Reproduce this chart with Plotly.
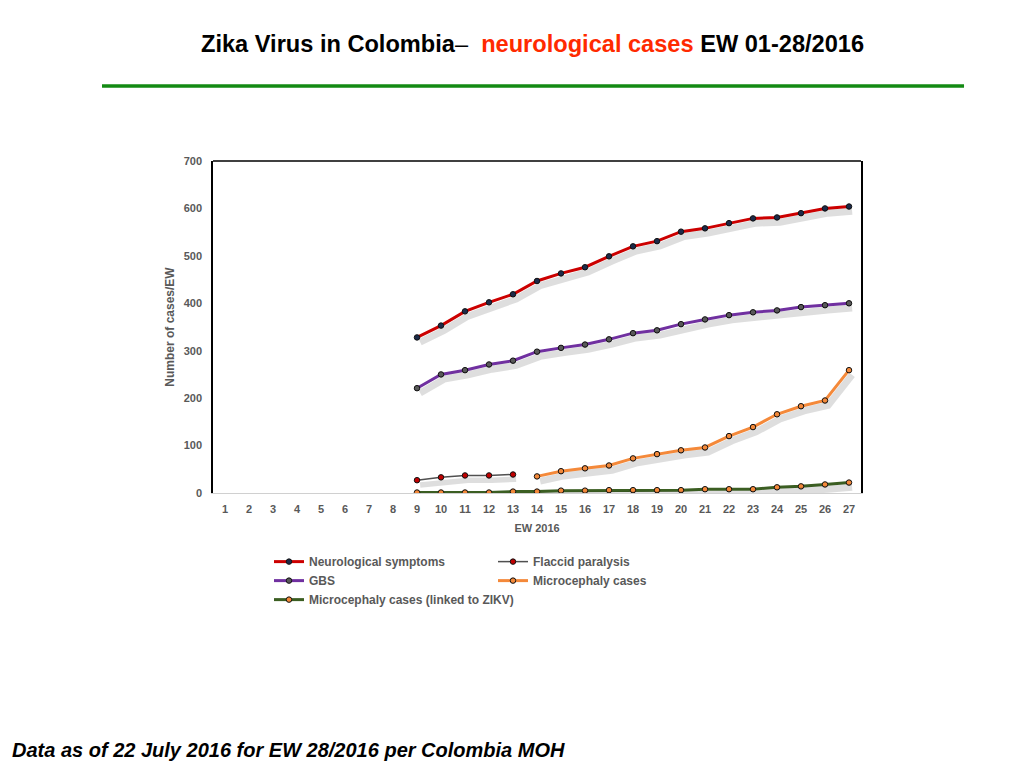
import plotly.graph_objects as go

# epidemiological weeks shown on the x axis
weeks = list(range(1, 28))

# series values (weeks 9-27)
neuro_weeks = list(range(9, 28))
neuro_cases = [328, 353, 383, 402, 419, 447, 463, 476, 499, 520, 531, 551, 558, 569, 579, 581, 590, 600, 604]

gbs_weeks = list(range(9, 28))
gbs_cases = [221, 250, 259, 271, 279, 298, 306, 313, 324, 337, 343, 356, 366, 375, 381, 385, 392, 396, 400]

flaccid_weeks = [9, 10, 11, 12, 13]
flaccid_cases = [27, 33, 37, 37, 39]

micro_weeks = list(range(14, 28))
micro_cases = [35, 46, 52, 58, 73, 82, 90, 96, 120, 139, 166, 183, 195, 259]

zikv_weeks = list(range(9, 28))
zikv_cases = [1, 1, 1, 1, 3, 3, 5, 5, 6, 6, 6, 6, 8, 8, 8, 12, 14, 18, 22]

tick_gray = "#595959"
font_main = "Liberation Sans"

# series: name, x, y, line colour, line width, marker colour
series = [
    ("Neurological symptoms", neuro_weeks, neuro_cases, "#cc0000", 3, "#1c2a4a"),
    ("Flaccid paralysis", flaccid_weeks, flaccid_cases, "#505050", 1.5, "#c00000"),
    ("GBS", gbs_weeks, gbs_cases, "#7030a0", 3, "#595959"),
    ("Microcephaly cases", micro_weeks, micro_cases, "#f4893a", 3, "#f4893a"),
    ("Microcephaly cases (linked to ZIKV)", zikv_weeks, zikv_cases, "#3b5e22", 3, "#f4893a"),
]

fig = go.Figure()

# soft drop shadows drawn on a slightly shifted copy of the axes
for name, x, y, col, lw, mcol in series:
    fig.add_trace(go.Scatter(
        x=x, y=y, mode="lines", xaxis="x2", yaxis="y2",
        line=dict(color="rgba(0,0,0,0.13)", width=lw + 4),
        showlegend=False, hoverinfo="skip"))

for name, x, y, col, lw, mcol in series:
    fig.add_trace(go.Scatter(
        x=x, y=y, mode="lines+markers", name=name,
        line=dict(color=col, width=lw),
        marker=dict(color=mcol, size=5.5, line=dict(color="#111111", width=1))))

# the page adds an 8px body margin, so the margins below are shifted by that
fig.update_layout(
    width=1024, height=768,
    paper_bgcolor="white", plot_bgcolor="white",
    margin=dict(l=205, r=171, t=153, b=283),
    font=dict(family=font_main, color=tick_gray),
    xaxis=dict(
        range=[0.5, 27.5], tickmode="array", tickvals=weeks, ticktext=[str(w) for w in weeks],
        showgrid=False, zeroline=False, showline=True, linecolor="#d0d0d0", linewidth=1,
        ticks="", ticklabelstandoff=6,
        tickfont=dict(size=11, color=tick_gray, family=font_main, weight="bold"),
        title=dict(text="<b>EW 2016</b>", font=dict(size=11, color=tick_gray), standoff=10)),
    yaxis=dict(
        range=[0, 700], dtick=100, showgrid=False, zeroline=False,
        showline=True, linecolor="black", linewidth=1.5, mirror=True,
        ticks="", ticklabelstandoff=7,
        tickfont=dict(size=11, color=tick_gray, family=font_main, weight="bold"),
        title=dict(text="<b>Number of cases/EW</b>", font=dict(size=12, color=tick_gray), standoff=6)),
    xaxis2=dict(range=[0.5 - 0.13, 27.5 - 0.13], overlaying="x", visible=False),
    yaxis2=dict(range=[10, 710], overlaying="y", visible=False),
    legend=dict(
        orientation="h", x=0.0864, xanchor="left", y=-0.163, yanchor="top",
        entrywidth=179, entrywidthmode="pixels", itemwidth=30,
        font=dict(size=12, color=tick_gray, family=font_main, weight="bold"),
        bgcolor="rgba(0,0,0,0)"),
    showlegend=True,
)

# black top border of the plot frame
fig.add_shape(type="line", xref="paper", yref="paper", x0=0, x1=1, y0=1, y1=1,
              line=dict(color="black", width=1.5))

# green rule under the title
fig.add_shape(type="line", xref="paper", yref="paper", x0=-0.1713, x1=1.159, y0=1.226, y1=1.226,
              line=dict(color="#138a13", width=3.5))

fig.add_annotation(
    text="<b>Zika Virus in Colombia</b>–<b>  <span style='color:#ff2a00'>neurological cases</span> EW 01-28/2016</b>",
    xref="paper", yref="paper", x=0.493, y=1.352, xanchor="center", yanchor="middle",
    showarrow=False, font=dict(size=23.6, color="black", family=font_main))

fig.add_annotation(
    text="<b><i>Data as of 22 July 2016 for EW 28/2016 per Colombia MOH</i></b>",
    xref="paper", yref="paper", x=-0.3133, y=-0.774, xanchor="left", yanchor="middle",
    showarrow=False, font=dict(size=20, color="black", family=font_main))

fig.write_html("out.html")
